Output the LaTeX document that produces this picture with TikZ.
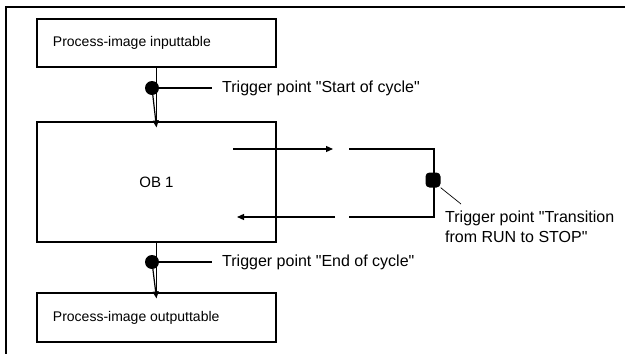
\documentclass[tikz,border=0pt]{standalone}
\usepackage{fontspec}
\setmainfont{Liberation Sans}[Ligatures=TeXOff]
\usepackage{tikz}
\usetikzlibrary{arrows.meta,calc,positioning}

\begin{document}
\begin{tikzpicture}[x=1pt,y=-1pt,>={Triangle[length=7pt,width=6pt]},
    font=\fontsize{16}{19}\selectfont,
    procbox/.style={draw,line width=1.2pt,minimum width=239pt,inner sep=0pt},
    boxtext/.style={anchor=west,font=\fontsize{14}{17}\selectfont},
    trigdot/.style={circle,fill=black,minimum width=12pt,minimum height=14pt,inner sep=0pt},
    trigtext/.style={anchor=west,inner xsep=10pt,inner ysep=0pt},
    link/.style={line width=1.2pt}]
  \useasboundingbox (0,0) rectangle (625,354);
  \draw[line width=1.6pt] (6,354)--(6,7)--(625,7);
  \node[procbox,minimum height=48pt] (inbox) at (156.5,43) {};
  \node[boxtext] at ($(inbox.west)+(13,0)$) {Process-image inputtable};
  \node[procbox,minimum height=120pt,font=\fontsize{15}{18}\selectfont] (ob) at (156.5,182) {OB 1};
  \node[procbox,minimum height=49pt] (outbox) at (156.5,317.5) {};
  \node[boxtext] at ($(outbox.west)+(13,0)$) {Process-image outputtable};
  \node[trigdot] (startdot) at (152,88) {};
  \node[trigdot] (enddot) at (152,262) {};
  \node[trigtext] (starttxt) at (212,88) {Trigger point "Start of cycle"};
  \node[trigtext] (endtxt) at (212,262) {Trigger point "End of cycle"};
  \draw[link] (inbox.south) -- (ob.north);
  \draw[link,->] (startdot) -- ([yshift=-6pt]ob.north);
  \draw[link] (startdot) -- (starttxt.west);
  \draw[link] (ob.south) -- (outbox.north);
  \draw[link,->] (enddot) -- ([yshift=-6pt]outbox.north);
  \draw[link] (enddot) -- (endtxt.west);
  \coordinate (u1) at (233,149);
  \coordinate (u2) at (333,149);
  \coordinate (u3) at (349,149);
  \coordinate (u4) at (434,149);
  \coordinate (l1) at (237,217);
  \coordinate (l2) at (335,217);
  \coordinate (l3) at (349,217);
  \coordinate (l4) at (434,217);
  \draw[link,->] (u1) -- (u2);
  \draw[link] (u3) -- (u4) -- (l4) -- (l3);
  \draw[link,->] (l2) -- (l1);
  \node[fill=black,rounded corners=4pt,minimum size=15pt,inner sep=0pt] (stopdot) at (433,180) {};
  \node[anchor=north west,align=left,inner sep=0pt,font=\fontsize{16}{20}\selectfont] (stoptxt) at (445,211)
    {Trigger point "Transition\\from RUN to STOP"};
  \draw[line width=0.7pt] (stopdot.south east) -- ($(stoptxt.north west)+(16,-7)$);
\end{tikzpicture}
\end{document}
